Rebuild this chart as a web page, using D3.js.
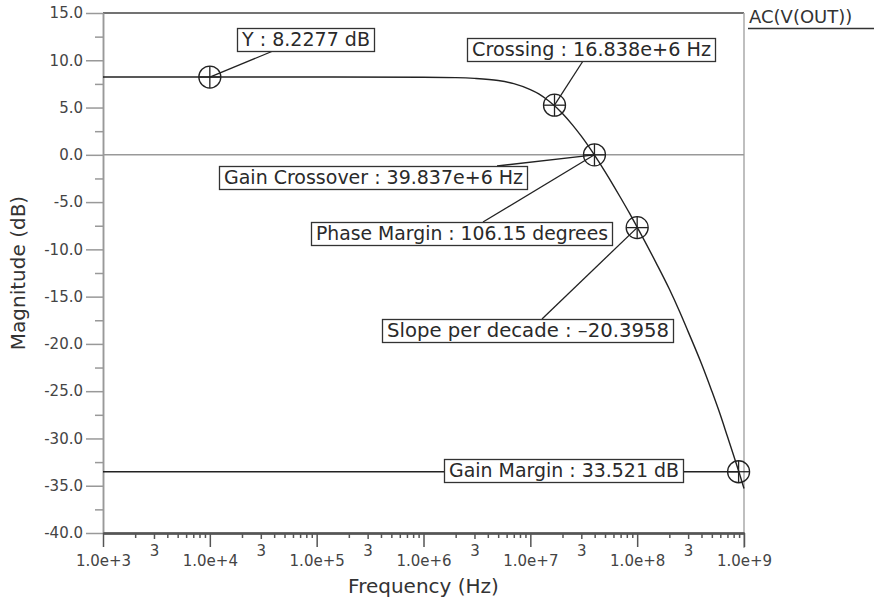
<!DOCTYPE html>
<html>
<head>
<meta charset="utf-8">
<script src="https://cdn.jsdelivr.net/npm/d3@7"></script>
<style>
  html, body { margin: 0; padding: 0; background: #fff; }
  svg { display: block; font-family: "DejaVu Sans", sans-serif; }
</style>
</head>
<body>
<svg id="chart" width="874" height="603"></svg>
<script>
// AC magnitude response of V(OUT)
const freqHz = [1e3, 1e4, 1e5, 1e6, 2e6, 3e6, 5e6, 7e6, 1e7, 1.2e7, 1.5e7, 2e7, 2.5e7, 3e7, 4e7, 5e7, 6e7, 7e7, 8.5e7, 1e8, 1.5e8, 2e8, 2.5e8, 3e8, 4e8, 5e8, 6e8, 7e8, 8e8, 9e8, 1e9];
const magDb  = [8.2277, 8.2277, 8.2275, 8.21, 8.17, 8.09, 7.86, 7.53, 6.90, 6.45, 5.67, 4.38, 3.12, 1.97, -0.06, -1.78, -3.25, -4.54, -6.20, -7.65, -11.40, -14.20, -16.60, -18.70, -22.10, -25.00, -27.50, -29.80, -31.80, -33.60, -35.30];

// measurement cursors on the trace
const markerNames = ["Y", "Crossing", "Gain Crossover", "Slope", "Gain Margin"];
const markerFreq  = [1e4, 16.838e6, 39.837e6, 1e8, 8.9e8];
const markerMag   = [8.2277, 5.25, 0, -7.7, -33.521];

// annotation texts and the cursor each one points to
const annotTexts  = ["Y : 8.2277 dB", "Crossing : 16.838e+6 Hz", "Gain Crossover : 39.837e+6 Hz",
                     "Phase Margin : 106.15 degrees", "Slope per decade : \u201320.3958", "Gain Margin : 33.521 dB"];
const annotMarker = [0, 1, 2, 2, 3, 4];

// axis ticks
const yTickValues = [15, 10, 5, 0, -5, -10, -15, -20, -25, -30, -35, -40];
const yTickLabels = ["15.0", "10.0", "5.0", "0.0", "-5.0", "-10.0", "-15.0", "-20.0", "-25.0", "-30.0", "-35.0", "-40.0"];
const xDecades    = [1e3, 1e4, 1e5, 1e6, 1e7, 1e8, 1e9];
const xDecadeLabels = ["1.0e+3", "1.0e+4", "1.0e+5", "1.0e+6", "1.0e+7", "1.0e+8", "1.0e+9"];
const xThreeLabel = "3";

const seriesName = "AC(V(OUT))";
const xTitle = "Frequency (Hz)";
const yTitle = "Magnitude (dB)";

// ---- layout ----
const plot = { left: 103, right: 744, top: 13, bottom: 533 };
const ink = "#222";
const svg = d3.select("#chart");

const x = d3.scaleLog().domain([1e3, 1e9]).range([plot.left, plot.right]);
const y = d3.scaleLinear().domain([-40, 15]).range([plot.bottom, plot.top]);

// annotation boxes: left, top, width, leader attach (offset along box, side)
const boxLayout = [
  { bx: 237, by: 28,  bw: 137, ax: 36,  side: "bottom" },
  { bx: 467, by: 38,  bw: 248, ax: 116, side: "bottom" },
  { bx: 219, by: 166, bw: 308, ax: 278, side: "top" },
  { bx: 311, by: 222, bw: 301, ax: 172, side: "top" },
  { bx: 382, by: 319, bw: 291, ax: 160, side: "top" },
  { bx: 444, by: 459, bw: 239, ax: 0,   side: "left" }
];
const boxH = 23;

// ---- frame & reference lines ----
svg.append("line")
  .attr("x1", plot.left).attr("x2", plot.right)
  .attr("y1", plot.top).attr("y2", plot.top)
  .attr("stroke", "#444").attr("stroke-width", 1.5);
svg.append("line")
  .attr("x1", plot.right).attr("x2", plot.right)
  .attr("y1", plot.top).attr("y2", plot.bottom + 15)
  .attr("stroke", "#aaa").attr("stroke-width", 1.5);
svg.append("line")
  .attr("x1", plot.left).attr("x2", plot.right)
  .attr("y1", y(0)).attr("y2", y(0))
  .attr("stroke", "#999").attr("stroke-width", 1.5);

// ---- y axis ----
const yMinor = d3.range(-37.5, 15, 5);
const gyMinor = svg.append("g")
  .attr("transform", `translate(${plot.left},0)`)
  .call(d3.axisLeft(y).tickValues(yMinor).tickSize(8).tickSizeOuter(0).tickFormat(""));
const gy = svg.append("g")
  .attr("transform", `translate(${plot.left},0)`)
  .call(d3.axisLeft(y).tickValues(yTickValues).tickSize(17).tickPadding(3).tickSizeOuter(0)
        .tickFormat((d, i) => yTickLabels[i]));
[gy, gyMinor].forEach(g => {
  g.style("color", "#999");
  g.selectAll("line").attr("stroke-width", 1.5);
  g.select(".domain").attr("stroke-width", 1.5);
});
gy.selectAll("text").attr("fill", "#444").attr("font-size", 15)
  .attr("font-family", "DejaVu Sans, sans-serif");

// ---- x axis ----
const xMinor = [];
const xThrees = [];
xDecades.slice(0, -1).forEach(d => {
  for (let k = 2; k <= 9; k++) (k === 3 ? xThrees : xMinor).push(d * k);
});
const gxMinor = svg.append("g")
  .attr("transform", `translate(0,${plot.bottom})`)
  .call(d3.axisBottom(x).tickValues(xMinor).tickSize(5).tickSizeOuter(0).tickFormat(""));
const gxThree = svg.append("g")
  .attr("transform", `translate(0,${plot.bottom})`)
  .call(d3.axisBottom(x).tickValues(xThrees).tickSize(6).tickPadding(6).tickSizeOuter(0)
        .tickFormat(() => xThreeLabel));
const gx = svg.append("g")
  .attr("transform", `translate(0,${plot.bottom})`)
  .call(d3.axisBottom(x).tickValues(xDecades).tickSize(14).tickPadding(8).tickSizeOuter(0)
        .tickFormat((d, i) => xDecadeLabels[i]));
[gx, gxThree, gxMinor].forEach(g => {
  g.style("color", "#555");
  g.selectAll("line").attr("stroke-width", 1.5);
  g.select(".domain").attr("stroke-width", 2);
});
gx.selectAll("text").attr("fill", "#444").attr("font-size", 15)
  .attr("font-family", "DejaVu Sans, sans-serif");
gxThree.selectAll("text").attr("fill", "#444").attr("font-size", 15)
  .attr("font-family", "DejaVu Sans, sans-serif");

// ---- axis titles ----
svg.append("text")
  .attr("x", (plot.left + plot.right) / 2).attr("y", 593)
  .attr("text-anchor", "middle").attr("font-size", 20).attr("fill", "#333")
  .text(xTitle);
svg.append("text")
  .attr("transform", `translate(25,${(plot.top + plot.bottom) / 2}) rotate(-90)`)
  .attr("text-anchor", "middle").attr("font-size", 20).attr("fill", "#333")
  .text(yTitle);

// ---- legend ----
svg.append("text")
  .attr("x", 749).attr("y", 23)
  .attr("font-size", 18).attr("fill", "#333")
  .text(seriesName);
svg.append("line")
  .attr("x1", 748).attr("x2", 874).attr("y1", 28.5).attr("y2", 28.5)
  .attr("stroke", "#333").attr("stroke-width", 1.5);

// ---- trace ----
const pts = freqHz.map((f, i) => [x(f), y(magDb[i])]);
svg.append("path")
  .attr("d", d3.line().curve(d3.curveMonotoneX)(pts))
  .attr("fill", "none").attr("stroke", ink).attr("stroke-width", 1.4);

// ---- leaders ----
const leaders = svg.append("g").attr("stroke", ink).attr("stroke-width", 1.3);
annotTexts.forEach((t, i) => {
  const L = boxLayout[i];
  const m = annotMarker[i];
  const mx = x(markerFreq[m]), my = y(markerMag[m]);
  if (L.side === "left") {
    leaders.append("line")
      .attr("x1", plot.left).attr("x2", mx).attr("y1", my).attr("y2", my);
  } else {
    const ly = L.side === "top" ? L.by : L.by + boxH;
    leaders.append("line")
      .attr("x1", L.bx + L.ax).attr("y1", ly).attr("x2", mx).attr("y2", my);
  }
});

// ---- annotation boxes ----
const boxes = svg.append("g");
annotTexts.forEach((t, i) => {
  const L = boxLayout[i];
  boxes.append("rect")
    .attr("x", L.bx + 0.5).attr("y", L.by + 0.5)
    .attr("width", L.bw).attr("height", boxH)
    .attr("fill", "#fff").attr("stroke", "#333").attr("stroke-width", 1.3);
  boxes.append("text")
    .attr("x", L.bx + 5).attr("y", L.by + 18)
    .attr("font-size", 19).attr("fill", "#2a2a2a")
    .attr("textLength", L.bw - 9).attr("lengthAdjust", "spacingAndGlyphs")
    .text(t);
});

// ---- cursors ----
const mk = svg.append("g").attr("stroke", ink).attr("stroke-width", 1.3).attr("fill", "none");
markerFreq.forEach((f, i) => {
  const cx = x(f), cy = y(markerMag[i]), r = 11;
  mk.append("circle").attr("cx", cx).attr("cy", cy).attr("r", r);
  mk.append("line").attr("x1", cx - r).attr("x2", cx + r).attr("y1", cy).attr("y2", cy);
  mk.append("line").attr("x1", cx).attr("x2", cx).attr("y1", cy - r).attr("y2", cy + r);
});
</script>
</body>
</html>
